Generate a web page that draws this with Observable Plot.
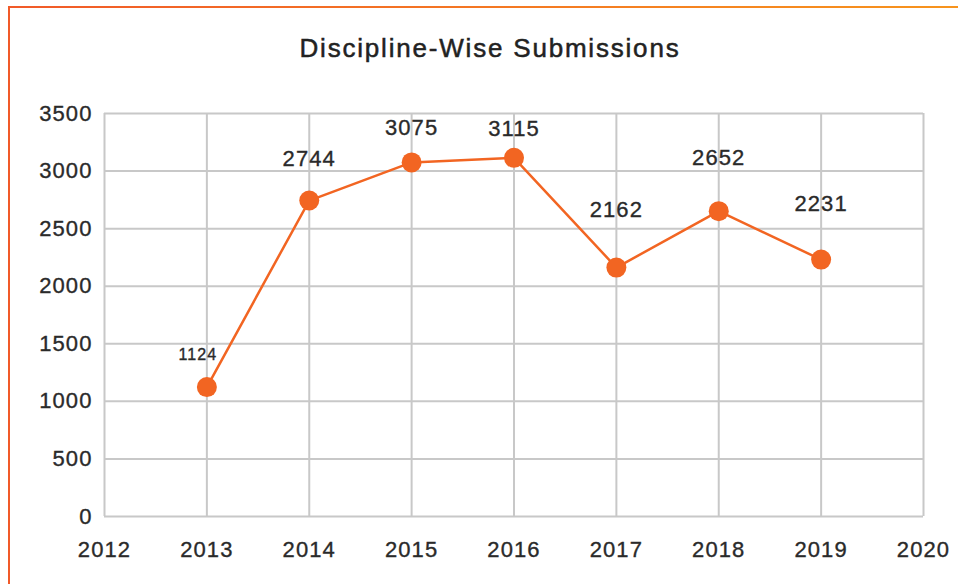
<!DOCTYPE html>
<html>
<head>
<meta charset="utf-8">
<script src="https://cdn.jsdelivr.net/npm/d3@7"></script>
<script src="https://cdn.jsdelivr.net/npm/@observablehq/plot@0.6"></script>
<style>
  html, body { margin: 0; padding: 0; background: #fff; }
  #wrap { position: relative; width: 958px; height: 584px; overflow: hidden; font-family: "Liberation Sans", Arial, Helvetica, sans-serif; }
  #topline { position: absolute; left: 8px; top: 6px; width: 950px; height: 2px; background: linear-gradient(to right, #f15a29, #f7941d); }
  #leftline { position: absolute; left: 8px; top: 6px; width: 2px; height: 578px; background: #f15a29; }
  #title { position: absolute; left: 0; width: 980px; top: 33px; text-align: center; font-size: 26px; letter-spacing: 1.8px; color: #222; -webkit-text-stroke: 0.5px #222; }
  #chart { position: absolute; left: 0; top: 0; }
  #chart svg text { letter-spacing: 1.1px; stroke: #2a2a2a; stroke-width: 0.35px; }
</style>
</head>
<body>
<div id="wrap">
  <div id="chart"></div>
  <div id="topline"></div>
  <div id="leftline"></div>
  <div id="title">Discipline-Wise Submissions</div>
</div>
<script>
const years = [2013, 2014, 2015, 2016, 2017, 2018, 2019];
const submissions = [1124, 2744, 3075, 3115, 2162, 2652, 2231];
const xTicks = [2012, 2013, 2014, 2015, 2016, 2017, 2018, 2019, 2020];
const yTicks = [0, 500, 1000, 1500, 2000, 2500, 3000, 3500];
// label styling per point (offset above point, font size)
const labelDy = [-32, -42, -34, -29, -58, -53, -56];
const labelSize = [16, 22, 22, 22, 22, 22, 22];

const data = years.map((y, i) => ({year: y, value: submissions[i], dy: labelDy[i], fs: labelSize[i]}));

const orange = "#f26522";
const grid = "#c8c8c8";

const labelMarks = data.map(d => Plot.text([d], {
  x: "year", y: "value", text: d => String(d.value),
  dy: d.dy, fontSize: d.fs, fill: "#2a2a2a", dx: d.fs < 18 ? -9 : 0
}));

const chart = Plot.plot({
  width: 958,
  height: 584,
  marginLeft: 104,
  marginRight: 35,
  marginTop: 113,
  marginBottom: 68,
  style: { fontFamily: "'Liberation Sans', Arial, Helvetica, sans-serif", fontSize: "22px", color: "#2a2a2a", background: "transparent" },
  x: { domain: [2012, 2020], ticks: xTicks, tickFormat: d => String(d), tickSize: 0, tickPadding: 25, label: null },
  y: { domain: [0, 3500], ticks: yTicks, tickFormat: d => String(d), tickSize: 0, tickPadding: 12, label: null },
  marks: [
    Plot.ruleX(xTicks, { stroke: grid, strokeWidth: 2 }),
    Plot.ruleY(yTicks, { stroke: grid, strokeWidth: 2 }),
    Plot.axisX({ ticks: xTicks, tickFormat: d => String(d), tickSize: 0, tickPadding: 25, fontSize: 22, fill: "#2a2a2a", label: null }),
    Plot.axisY({ ticks: yTicks, tickFormat: d => String(d), tickSize: 0, tickPadding: 12, fontSize: 22, fill: "#2a2a2a", label: null }),
    Plot.line(data, { x: "year", y: "value", stroke: orange, strokeWidth: 2.5 }),
    Plot.dot(data, { x: "year", y: "value", r: 10, fill: orange, stroke: "none" }),
    ...labelMarks
  ]
});
document.getElementById("chart").appendChild(chart);
</script>
</body>
</html>
